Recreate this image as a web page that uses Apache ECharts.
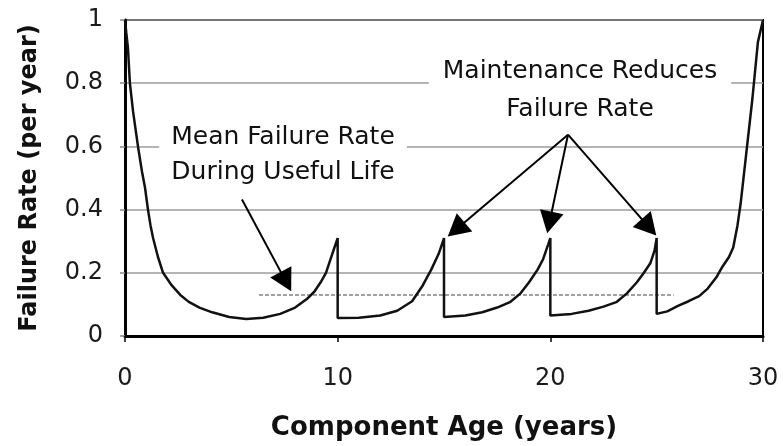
<!DOCTYPE html>
<html>
<head>
<meta charset="utf-8">
<script src="https://cdn.jsdelivr.net/npm/echarts@6/dist/echarts.min.js"></script>
<style>
  html, body { margin: 0; background: #fff; }
  #chart { width: 783px; height: 446px; }
</style>
</head>
<body>
<div id="chart"></div>
<script>
// [age, rate] pairs; a repeated age is a maintenance drop
var burnIn = [[0, 1.0], [0.06, 0.96], [0.14, 0.91], [0.23, 0.8], [0.38, 0.71], [0.61, 0.6], [0.8, 0.52],
  [0.94, 0.47], [1.08, 0.4], [1.2, 0.35], [1.32, 0.31], [1.55, 0.25], [1.79, 0.2], [2.2, 0.16],
  [2.6, 0.13], [3.0, 0.108], [3.5, 0.09], [4.1, 0.075], [4.9, 0.06], [5.7, 0.054], [6.5, 0.058],
  [7.3, 0.07], [8.0, 0.09], [8.55, 0.117], [8.9, 0.14], [9.2, 0.17], [9.45, 0.2], [9.65, 0.24],
  [9.85, 0.28], [10, 0.31], [10, 0.057]];
var cycle2 = [[11, 0.058], [12, 0.065], [12.8, 0.08], [13.5, 0.11], [14.0, 0.16], [14.4, 0.21],
  [14.75, 0.26], [15, 0.31], [15, 0.06]];
var cycle3 = [[16, 0.065], [16.8, 0.075], [17.5, 0.09], [18.1, 0.107], [18.6, 0.135], [19.0, 0.17],
  [19.4, 0.21], [19.66, 0.243], [19.9, 0.29], [20, 0.31], [20, 0.065]];
var cycle4 = [[21, 0.07], [21.8, 0.08], [22.5, 0.093], [23.1, 0.107], [23.6, 0.135], [24.07, 0.17],
  [24.4, 0.2], [24.7, 0.23], [24.9, 0.27], [25, 0.31], [25, 0.07]];
var wearOut = [[25.5, 0.078], [26, 0.095], [26.5, 0.11], [27, 0.126], [27.4, 0.15], [27.8, 0.185],
  [28.1, 0.22], [28.4, 0.25], [28.6, 0.28], [28.8, 0.35], [28.95, 0.42], [29.2, 0.57], [29.5, 0.75],
  [29.76, 0.93], [30, 1.0]];
var meanRate = [[6.3, 0.13], [25.8, 0.13]];

// arrows: start point and (shortened) end point so the head tip lands on the target
var meanArrow = [[5.5, 0.432], [7.57, 0.172]];
var maintFrom = [20.83, 0.637];
var maintTo = [[15.57, 0.337], [19.96, 0.359], [24.64, 0.344]];

var font = '"DejaVu Sans", sans-serif';
var chart = echarts.init(document.getElementById('chart'));

var arrowLines = [[{ coord: meanArrow[0] }, { coord: meanArrow[1] }]];
maintTo.forEach(function (p) {
  arrowLines.push([{ coord: maintFrom }, { coord: p }]);
});

chart.setOption({
  animation: false,
  backgroundColor: '#fff',
  grid: { left: 125, right: 20, top: 20, bottom: 109, show: true, borderColor: '#000', borderWidth: 2 },
  xAxis: {
    type: 'value', min: 0, max: 30, interval: 10,
    name: 'Component Age (years)', nameLocation: 'middle', nameGap: 79,
    nameTextStyle: { fontFamily: font, fontWeight: 'bold', fontSize: 26, color: '#111' },
    axisLine: { lineStyle: { color: '#000', width: 3 } },
    axisTick: { length: 6, lineStyle: { color: '#000', width: 1.5 } },
    axisLabel: { fontFamily: font, fontSize: 24, color: '#1a1a1a', margin: 31 },
    splitLine: { show: false }
  },
  yAxis: {
    type: 'value', min: 0, max: 1, interval: 0.2,
    name: 'Failure Rate (per year)', nameLocation: 'middle', nameGap: 83,
    nameTextStyle: { fontFamily: font, fontWeight: 'bold', fontSize: 24, color: '#111' },
    axisLine: { show: true, lineStyle: { color: '#000', width: 3 } },
    axisTick: { show: true, length: 5, lineStyle: { color: '#888', width: 1.5 } },
    axisLabel: { fontFamily: font, fontSize: 24, color: '#1a1a1a', margin: 22 },
    splitLine: { lineStyle: { color: '#9c9c9c', width: 1.5 } }
  },
  graphic: [
    {
      type: 'text', x: 283, y: 155, z: 100,
      style: {
        text: 'Mean Failure Rate\nDuring Useful Life', font: '25px ' + font, fill: '#111',
        align: 'center', verticalAlign: 'middle', lineHeight: 35,
        backgroundColor: '#fff', padding: [2, 12]
      }
    },
    {
      type: 'text', x: 580, y: 90, z: 100,
      style: {
        text: 'Maintenance Reduces\nFailure Rate', font: '25px ' + font, fill: '#111',
        align: 'center', verticalAlign: 'middle', lineHeight: 38,
        backgroundColor: '#fff', padding: [2, 14]
      }
    }
  ],
  series: [
    {
      type: 'line', name: 'Mean rate', data: meanRate, showSymbol: false, silent: true,
      lineStyle: { color: '#a0a0a0', width: 2, type: [4, 2] },
      markLine: {
        silent: true, symbol: ['none', 'triangle'], symbolSize: [24, 22],
        label: { show: false },
        lineStyle: { color: '#000', width: 2, type: 'solid' },
        data: arrowLines
      }
    },
    {
      type: 'line', name: 'Failure rate', showSymbol: false, silent: true,
      data: burnIn.concat(cycle2, cycle3, cycle4, wearOut),
      lineStyle: { color: '#111', width: 2.5 }
    }
  ]
});
</script>
</body>
</html>
